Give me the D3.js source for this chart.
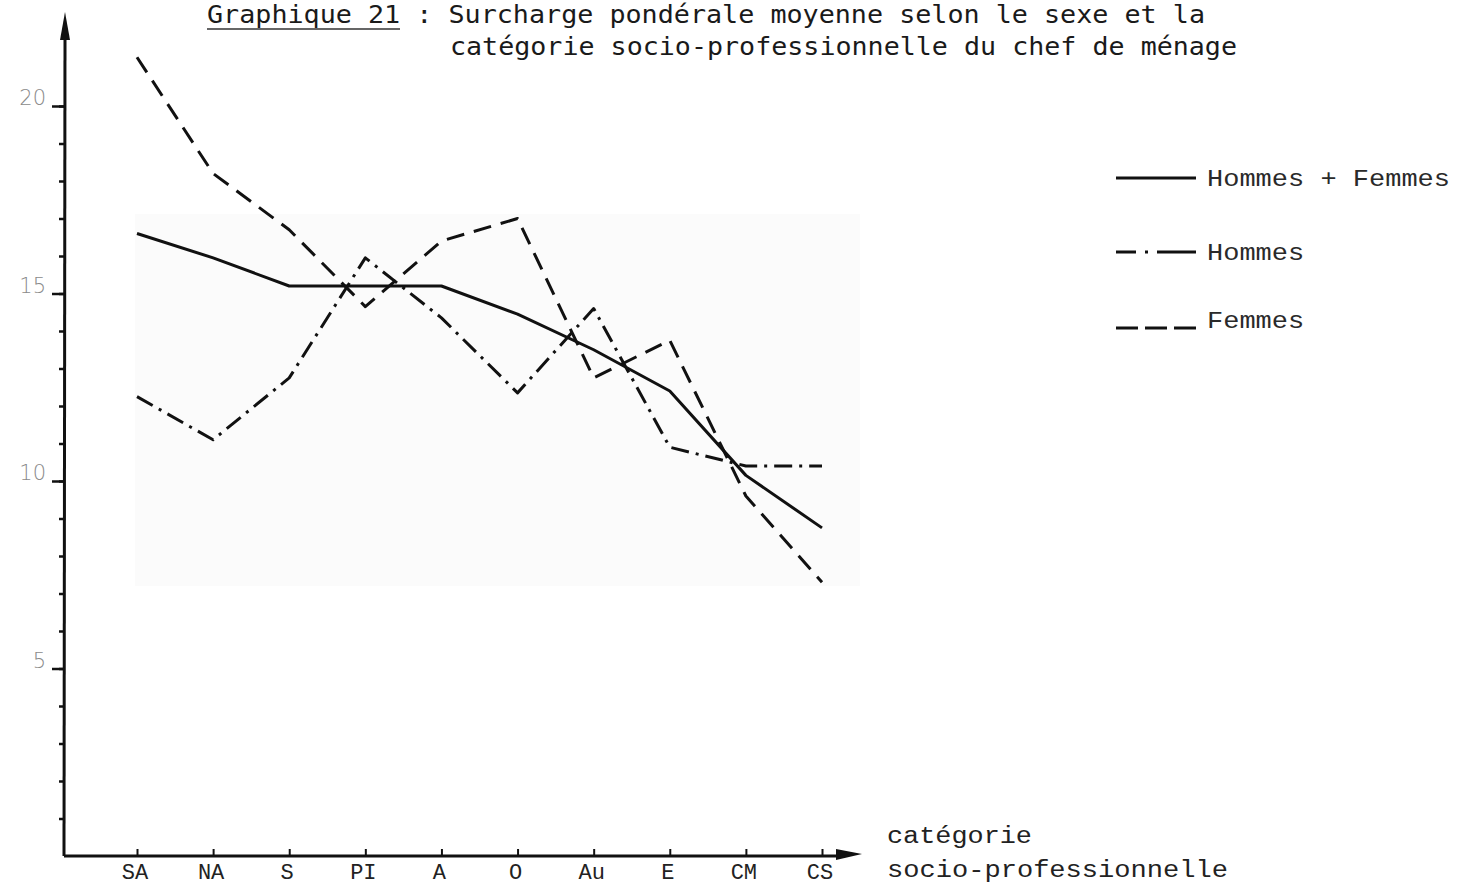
<!DOCTYPE html>
<html>
<head>
<meta charset="utf-8">
<script src="https://cdn.jsdelivr.net/npm/d3@7"></script>
<style>
  body { margin: 0; background: #fff; }
  svg { display: block; }
</style>
</head>
<body>
<svg id="chart"></svg>
<script>
// categories along the x axis
const categories = ["SA", "NA", "S", "PI", "A", "O", "Au", "E", "CM", "CS"];

// series values
const hommesFemmes = [16.6, 15.95, 15.2, 15.2, 15.2, 14.45, 13.5, 12.4, 10.15, 8.75];
const hommes = [12.25, 11.1, 12.75, 15.95, 14.35, 12.35, 14.6, 10.9, 10.4, 10.4];
const femmes = [21.3, 18.2, 16.7, 14.65, 16.4, 17.0, 12.75, 13.75, 9.6, 7.3];

const majorTicks = [5, 10, 15, 20];
const minorTicks = d3.range(1, 21);

const seriesList = [
    { name: "Hommes + Femmes", values: hommesFemmes, dash: null },
    { name: "Hommes", values: hommes, dash: "18,7,3,7" },
    { name: "Femmes", values: femmes, dash: "18,10" }
];

const width = 1468;
const height = 886;
const ink = "#111";

const svg = d3.select("#chart")
    .attr("width", width)
    .attr("height", height);

// scales
const xScale = d3.scalePoint()
    .domain(categories)
    .range([137, 822]);

const yScale = d3.scaleLinear()
    .domain([0, 20])
    .range([856, 106]);

const axisX = 64;

// faint scanned background patch
svg.append("rect")
    .attr("x", 135).attr("y", 214)
    .attr("width", 725).attr("height", 372)
    .attr("fill", "#fbfbfb");

// title
const title = svg.append("g")
    .style("font-family", "'DejaVu Sans Mono', monospace")
    .style("font-size", "24px")
    .attr("fill", "#1a1a1a");

title.append("text")
    .attr("x", 207).attr("y", 23)
    .attr("textLength", 998)
    .attr("lengthAdjust", "spacingAndGlyphs")
    .text("Graphique 21 : Surcharge pondérale moyenne selon le sexe et la");

title.append("line")
    .attr("x1", 207).attr("x2", 400)
    .attr("y1", 29).attr("y2", 29)
    .attr("stroke", "#333").attr("stroke-width", 1.5);

title.append("text")
    .attr("x", 450).attr("y", 55)
    .attr("textLength", 787)
    .attr("lengthAdjust", "spacingAndGlyphs")
    .text("catégorie socio-professionnelle du chef de ménage");

// y axis: minor ticks
const yAxisMinor = d3.axisLeft(yScale)
    .tickValues(minorTicks)
    .tickSize(5)
    .tickFormat("");

const gMinor = svg.append("g")
    .attr("transform", `translate(${axisX},0)`)
    .call(yAxisMinor);
gMinor.select(".domain").remove();
gMinor.selectAll("line").attr("stroke", ink).attr("stroke-width", 2.5);

// y axis: major ticks and labels
const yAxisMajor = d3.axisLeft(yScale)
    .tickValues(majorTicks)
    .tickSize(12)
    .tickPadding(6);

const gMajor = svg.append("g")
    .attr("transform", `translate(${axisX},0)`)
    .call(yAxisMajor);
gMajor.select(".domain").remove();
gMajor.selectAll("line").attr("stroke", ink).attr("stroke-width", 2.5);
gMajor.selectAll("text")
    .attr("dy", "-0.05em")
    .style("font-family", "'DejaVu Sans', sans-serif")
    .style("font-weight", "200")
    .style("font-size", "21px")
    .attr("fill", "#8a8a8a");

// y axis line with arrow
svg.append("line")
    .attr("x1", axisX).attr("x2", axisX + 1)
    .attr("y1", yScale(0)).attr("y2", 36)
    .attr("stroke", ink).attr("stroke-width", 3);
svg.append("path")
    .attr("d", `M${axisX + 1},12 L${axisX - 4},40 L${axisX + 6},40 Z`)
    .attr("fill", ink);

// x axis
const xAxis = d3.axisTop(xScale)
    .tickSize(7)
    .tickFormat("");

const gX = svg.append("g")
    .attr("transform", `translate(0,${yScale(0)})`)
    .call(xAxis);
gX.select(".domain").remove();
gX.selectAll("line").attr("stroke", ink).attr("stroke-width", 2);

svg.append("line")
    .attr("x1", axisX).attr("x2", 845)
    .attr("y1", yScale(0)).attr("y2", yScale(0))
    .attr("stroke", ink).attr("stroke-width", 3);
svg.append("path")
    .attr("d", `M862,${yScale(0) - 2} L836,${yScale(0) - 7} L836,${yScale(0) + 4} Z`)
    .attr("fill", ink);

// category labels
svg.selectAll(".cat-label")
    .data(categories)
    .enter()
    .append("text")
    .attr("class", "cat-label")
    .attr("x", d => xScale(d) - 2)
    .attr("y", 879)
    .style("font-family", "'Liberation Mono', monospace")
    .style("font-size", "22px")
    .style("text-anchor", "middle")
    .attr("fill", "#222")
    .text(d => d);

// x axis title
const xTitle = svg.append("g")
    .style("font-family", "'Liberation Mono', monospace")
    .style("font-size", "23px")
    .attr("fill", "#222");
xTitle.append("text")
    .attr("x", 887).attr("y", 843)
    .attr("textLength", 145)
    .attr("lengthAdjust", "spacingAndGlyphs")
    .text("catégorie");
xTitle.append("text")
    .attr("x", 887).attr("y", 877)
    .attr("textLength", 341)
    .attr("lengthAdjust", "spacingAndGlyphs")
    .text("socio-professionnelle");

// lines
const line = d3.line()
    .x((d, i) => xScale(categories[i]))
    .y(d => yScale(d));

svg.selectAll(".series")
    .data(seriesList)
    .enter()
    .append("path")
    .attr("class", "series")
    .attr("d", d => line(d.values))
    .attr("fill", "none")
    .attr("stroke", ink)
    .attr("stroke-width", 3)
    .attr("stroke-linejoin", "round")
    .attr("stroke-dasharray", d => d.dash);

// legend
const legendY = [178, 252, 320];
const legend = svg.selectAll(".legend")
    .data(seriesList)
    .enter()
    .append("g")
    .attr("class", "legend")
    .attr("transform", (d, i) => `translate(1116,${legendY[i]})`);

legend.append("line")
    .attr("x1", 0).attr("x2", 80)
    .attr("y1", (d, i) => i === 2 ? 8 : 0)
    .attr("y2", (d, i) => i === 2 ? 8 : 0)
    .attr("stroke", ink)
    .attr("stroke-width", 3)
    .attr("stroke-dasharray", (d, i) => i === 1 ? "20,9,3,9,40" : i === 2 ? "22,7" : null);

legend.append("text")
    .attr("x", 91)
    .attr("y", 8)
    .attr("textLength", d => d.name.length * 16.2)
    .attr("lengthAdjust", "spacingAndGlyphs")
    .style("font-family", "'Liberation Mono', monospace")
    .style("font-size", "23px")
    .attr("fill", "#2a2a2a")
    .text(d => d.name);
</script>
</body>
</html>
